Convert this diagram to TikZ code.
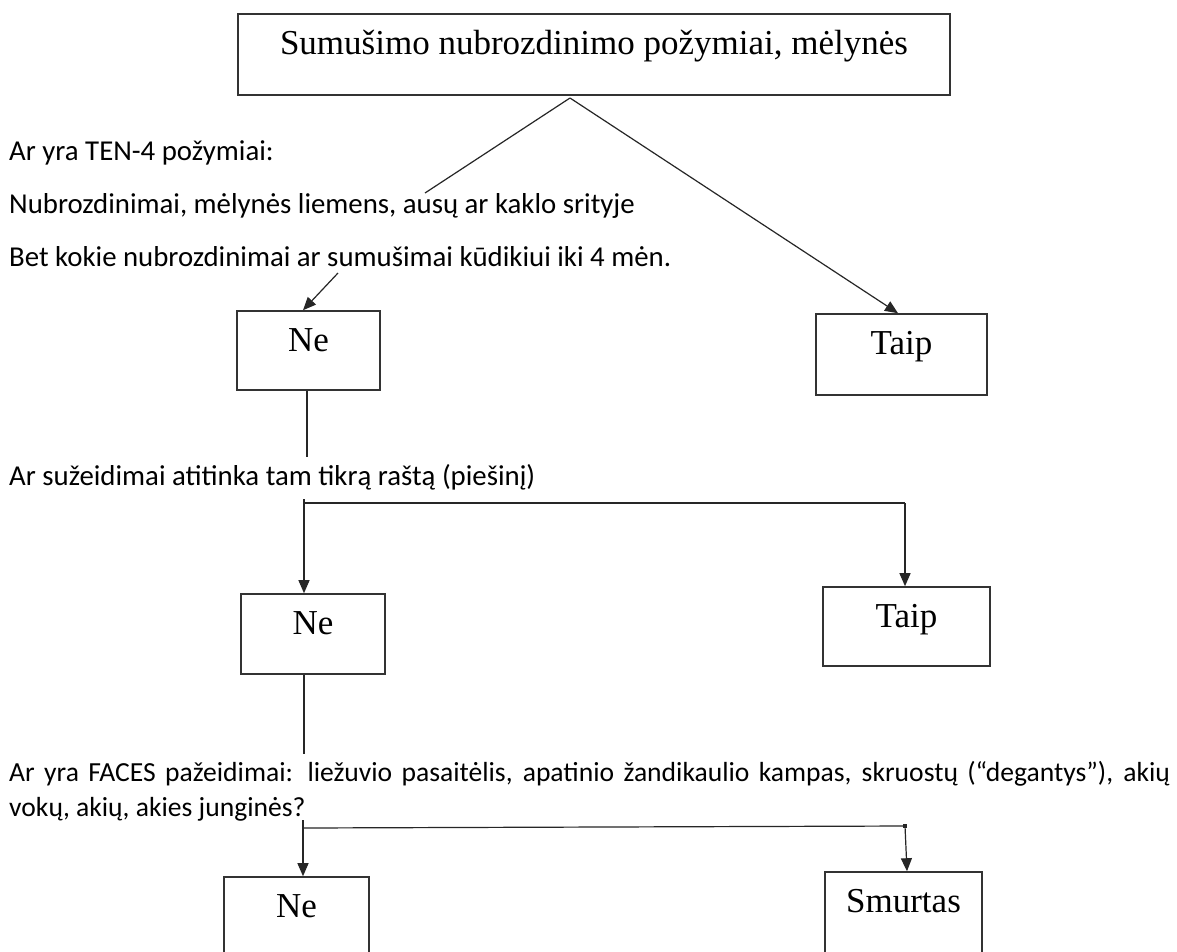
\documentclass[tikz,border=0pt]{standalone}
\usepackage{fontspec}
\setmainfont{Carlito}
\newfontfamily\serifbox{Liberation Serif}
\usetikzlibrary{arrows.meta}
\begin{document}
\begin{tikzpicture}[x=1pt,y=-1pt,
  box/.style={draw=black!80, line width=1.6pt, inner sep=0pt},
  boxtext/.style={font=\serifbox\fontsize{35}{40}\selectfont, inner sep=0pt, anchor=base},
  q/.style={font=\fontsize{28.8}{33}\selectfont, inner sep=0pt, anchor=west},
  qf/.style={font=\fontsize{27.6}{32}\selectfont, inner sep=0pt, anchor=west},
  conn/.style={draw=black!85, line width=1.2pt},
  arr/.style={conn, -{Triangle[length=13pt,width=11pt]}}]
\useasboundingbox (0,0) rectangle (1177,951);
\clip (0,0) rectangle (1177,951);
\fill[white] (0,0) rectangle (1177,951);

% boxes
\node[box, minimum width=712pt, minimum height=81pt] (top) at (594,54.5) {};
\node[boxtext] (topt) at ([yshift=-41pt]top.north) {Sumušimo nubrozdinimo požymiai, mėlynės};
\node[box, minimum width=143pt, minimum height=79pt] (ne1) at (308.5,350.5) {};
\node[boxtext] (ne1t) at ([yshift=-41pt]ne1.north) {Ne};
\node[box, minimum width=171pt, minimum height=81pt] (taip1) at (901.5,354.5) {};
\node[boxtext] (taip1t) at ([yshift=-41pt]taip1.north) {Taip};
\node[box, minimum width=144pt, minimum height=80pt] (ne2) at (313,634) {};
\node[boxtext] (ne2t) at ([yshift=-41pt]ne2.north) {Ne};
\node[box, minimum width=167pt, minimum height=79pt] (taip2) at (906.5,626.5) {};
\node[boxtext] (taip2t) at ([yshift=-41pt]taip2.north) {Taip};
\node[box, minimum width=145pt, minimum height=90pt] (ne3) at (296.5,922) {};
\node[boxtext] (ne3t) at ([yshift=-41pt]ne3.north) {Ne};
\node[box, minimum width=157pt, minimum height=95pt] (smurtas) at (903.5,919.5) {};
\node[boxtext] (smurtast) at ([yshift=-41pt]smurtas.north) {Smurtas};

% texts
\node[q] (t1) at (9,153) {Ar yra TEN-4 požymiai:};
\node[q] (t2) at (9,206) {Nubrozdinimai, mėlynės liemens, ausų ar kaklo srityje};
\node[q] (t3) at (9,257) {Bet kokie nubrozdinimai ar sumušimai kūdikiui iki 4 mėn.};
\node[q] (t4) at (9,477) {Ar sužeidimai atitinka tam tikrą raštą (piešinį)};
\node[qf] (t5) at (9,774) {\makebox[1161pt][s]{Ar yra FACES pažeidimai: liežuvio pasaitėlis, apatinio žandikaulio kampas, skruostų (“degantys”), akių}};
\node[qf] (t6) at (9,809) {vokų, akių, akies junginės?};

% connectors
\coordinate (apex) at (570,98);
\coordinate (lend) at (425,193);
\draw[conn] (apex) -- (lend);
\draw[arr] (apex) -- ([xshift=-3.5pt]taip1.north);
\coordinate (a1) at (338,273);
\draw[arr] (a1) -- ([xshift=-5.5pt]ne1.north);
\coordinate (v1) at (307,457);
\draw[conn] (ne1.south -| v1) -- (v1);
\coordinate (h1L) at (304,503);
\coordinate (h1R) at (905,503);
\draw[conn] (h1L) -- (h1R);
\draw[arr] ([yshift=4pt]h1L) -- (h1L |- ne2.north);
\draw[arr] (h1R) -- (h1R |- taip2.north);
\coordinate (v2) at (304,754);
\draw[conn] (ne2.south -| v2) -- (v2);
\coordinate (h2L) at (303,828);
\coordinate (h2R) at (905,826);
\draw[conn] (h2L) -- (h2R);
\draw[arr] ([yshift=8pt]h2L) -- (h2L |- ne3.north);
\draw[arr] (h2R) -- ([xshift=3.5pt]smurtas.north);
\fill[black!85] ([xshift=-2.2pt,yshift=2.2pt]h2R) rectangle ([xshift=2.2pt,yshift=-2.2pt]h2R);
\end{tikzpicture}
\end{document}
